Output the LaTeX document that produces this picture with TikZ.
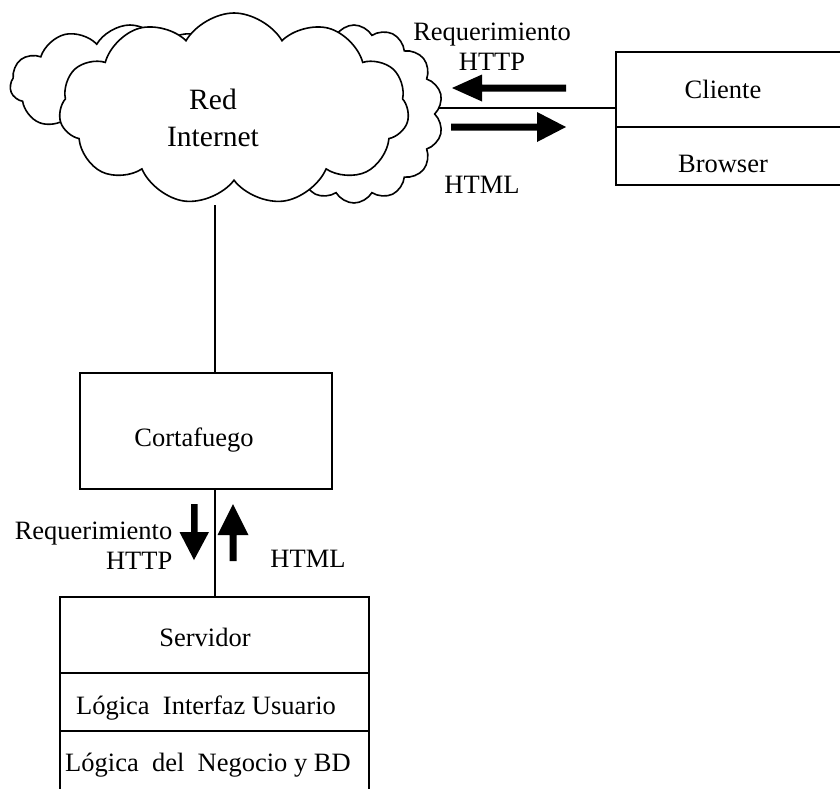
\documentclass[tikz,border=0pt]{standalone}
\usepackage{fontspec}
\setmainfont{Liberation Serif}
\usetikzlibrary{shapes.symbols}
\begin{document}
\begin{tikzpicture}[x=1pt,y=-1pt, font=\fontsize{26.5}{30}\selectfont, line width=1.5pt,
  box/.style={draw, line width=1.8pt, rectangle, inner sep=0pt},
  puff/.style={cloud, draw, fill=white, line width=1.6pt, cloud puffs=#1, cloud puff arc=120, aspect=1, cloud ignores aspect, inner sep=0pt},
  lbl/.style={inner sep=0pt, align=center},
  fat/.style={fill=black}]
\clip (0,0) rectangle (840,788);
\fill[white] (0,0) rectangle (840,788);
% clouds
\node[puff=11, minimum width=240pt, minimum height=118pt] (cloudL) at (130,84) {};
\node[puff=14, minimum width=178pt, minimum height=178pt] (cloudR) at (354,114) {};
\node[puff=11, minimum width=350pt, minimum height=192pt] (cloud) at (234,109) {};
\node[lbl, font=\fontsize{29.5}{37}\selectfont] (red) at (213,118) {Red\\Internet};
\coordinate (cE) at (439,108);
\coordinate (cS) at (215,205);
% client
\node[box, minimum width=234pt, minimum height=75pt] (cli1) at (733,89.5) {};
\node[box, minimum width=234pt, minimum height=58pt] (cli2) at (733,156) {};
\node[lbl] (clit) at (723,89) {Cliente};
\node[lbl] (brow) at (723,164) {Browser};
\draw (cE) -- (cE -| cli1.west);
% arrows top
\fill[fat] (452,88) -- (482,74.5) -- (482,84.5) -- (566,84.5) -- (566,91.5) -- (482,91.5) -- (482,101.5) -- cycle;
\fill[fat] (566,127) -- (537,112) -- (537,123.5) -- (451,123.5) -- (451,130.5) -- (537,130.5) -- (537,142) -- cycle;
\node[lbl] (req1) at (492,46.5) {Requerimiento\\HTTP};
\node[lbl] (html1) at (482,185) {HTML};
% firewall
\node[box, minimum width=252pt, minimum height=116pt] (corta) at (206,431) {};
\node[lbl] (cortat) at (194,440) {Cortafuego};
\draw (cS) -- (cS |- corta.north);
% server
\node[box, minimum width=309pt, minimum height=76pt] (serv1) at (214.5,635) {};
\node[box, minimum width=309pt, minimum height=58pt] (serv2) at (214.5,702) {};
\node[box, minimum width=309pt, minimum height=69pt] (serv3) at (214.5,765.5) {};
\node[lbl] (servt) at (205,637) {Servidor};
\node[lbl] (logi1) at (206,708) {Lógica\ \ Interfaz Usuario};
\node[lbl] (logi2) at (208,765) {Lógica\ \ del\ \ Negocio y BD};
\draw (cS |- corta.south) -- (cS |- serv1.north);
% arrows bottom
\fill[fat] (194,560) -- (179.5,532) -- (191,532) -- (191,504) -- (197.5,504) -- (197.5,532) -- (209,532) -- cycle;
\fill[fat] (233,504) -- (217.5,535) -- (229.5,535) -- (229.5,561) -- (236.5,561) -- (236.5,535) -- (248.5,535) -- cycle;
\node[lbl, align=right, anchor=east] (req2) at (173,546) {Requerimiento\\HTTP};
\node[lbl] (html2) at (308,559) {HTML};
\end{tikzpicture}
\end{document}
